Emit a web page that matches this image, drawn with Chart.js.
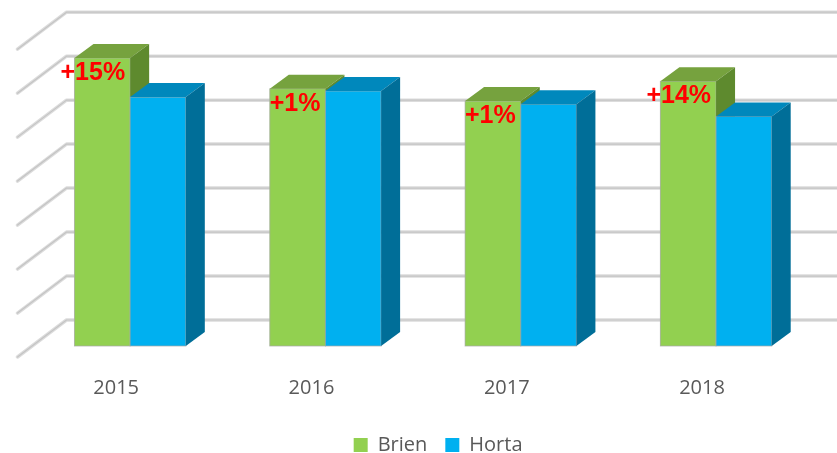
<!DOCTYPE html>
<html>
<head>
<meta charset="utf-8">
<script src="https://cdn.jsdelivr.net/npm/chart.js@4.4.1/dist/chart.umd.min.js"></script>
<style>
  html, body { margin: 0; padding: 0; background: #fff; }
  #wrap { width: 837px; height: 453px; }
</style>
</head>
<body>
<div id="wrap"><canvas id="myChart"></canvas></div>
<script>
// chart data
const years = ['2015', '2016', '2017', '2018'];
const brien = [6.55, 5.85, 5.57, 6.02];
const horta = [5.66, 5.80, 5.50, 5.22];
const diffLabels = ['+15%', '+1%', '+1%', '+14%'];
const gridValues = [0, 1, 2, 3, 4, 5, 6, 7];

// colours for each face of the 3d bars
const faces = [
  { front: '#92D050', top: '#76A23E', side: '#5E8A2E' },
  { front: '#00B0F0', top: '#0088BC', side: '#006E98' }
];

// draws the back wall / side wall lines and the 3d bars
const bars3d = {
  id: 'bars3d',
  afterLayout(chart) {
    // legend sits a little right of centre in the original
    chart.legend.left += 15;
    chart.legend.right += 15;
  },
  beforeDatasetsDraw(chart) {
    const ctx = chart.ctx;
    const y = chart.scales.y;
    const area = chart.chartArea;
    const xb = area.left + 34;
    ctx.save();
    gridValues.forEach(v => {
      const yb = y.getPixelForValue(v) - 26;
      ctx.beginPath();
      ctx.moveTo(xb - 49, yb + 37);
      ctx.lineTo(xb, yb);
      ctx.lineTo(chart.width, yb);
      ctx.lineCap = 'round';
      ctx.lineJoin = 'round';
      ctx.strokeStyle = '#dcdcdc';
      ctx.lineWidth = 3.5;
      ctx.stroke();
      ctx.strokeStyle = '#c4c4c4';
      ctx.lineWidth = 1.2;
      ctx.stroke();
    });
    ctx.restore();
  },
  afterDatasetsDraw(chart) {
    const ctx = chart.ctx;
    const dx = 19, dy = -14;
    ctx.save();
    years.forEach((yr, i) => {
      chart.data.datasets.forEach((ds, d) => {
        const el = chart.getDatasetMeta(d).data[i];
        const l = el.x - el.width / 2, r = el.x + el.width / 2;
        const t = el.y, b = el.base;
        const c = faces[d];
        ctx.fillStyle = c.front;
        ctx.fillRect(l, t, r - l, b - t);
        ctx.strokeStyle = 'rgba(170,170,170,0.7)';
        ctx.lineWidth = 1;
        ctx.strokeRect(l, t, r - l, b - t);
        ctx.beginPath();
        ctx.moveTo(l, t);
        ctx.lineTo(l + dx, t + dy);
        ctx.lineTo(r + dx, t + dy);
        ctx.lineTo(r, t);
        ctx.closePath();
        ctx.fillStyle = c.top;
        ctx.fill();
        ctx.beginPath();
        ctx.moveTo(r, t);
        ctx.lineTo(r + dx, t + dy);
        ctx.lineTo(r + dx, b + dy);
        ctx.lineTo(r, b);
        ctx.closePath();
        ctx.fillStyle = c.side;
        ctx.fill();
      });
    });
    // percentage labels on the Brien bars
    const meta = chart.getDatasetMeta(0);
    ctx.font = 'bold 25px "Liberation Sans", Arial, sans-serif';
    ctx.fillStyle = '#FF0000';
    ctx.textAlign = 'right';
    ctx.textBaseline = 'middle';
    diffLabels.forEach((txt, i) => {
      const el = meta.data[i];
      ctx.fillText(txt, el.x + el.width / 2 - 5, el.y + 15);
    });
    ctx.restore();
  }
};

const ctx = document.getElementById('myChart').getContext('2d');
const myChart = new Chart(ctx, {
  type: 'bar',
  data: {
    labels: years,
    datasets: [
      { label: 'Brien', data: brien, backgroundColor: faces[0].front, borderWidth: 0 },
      { label: 'Horta', data: horta, backgroundColor: faces[1].front, borderWidth: 0 }
    ]
  },
  options: {
    responsive: true,
    maintainAspectRatio: false,
    animation: false,
    layout: { padding: { top: 3, left: 32.5, right: 23.3, bottom: -12 } },
    datasets: { bar: { categoryPercentage: 0.57, barPercentage: 1.0 } },
    plugins: {
      legend: {
        position: 'bottom',
        labels: {
          boxWidth: 14,
          boxHeight: 14,
          padding: 18,
          color: '#595959',
          font: { family: '"Open Sans", sans-serif', size: 20 }
        }
      },
      tooltip: { enabled: false }
    },
    scales: {
      x: {
        grid: { display: false },
        border: { display: false },
        ticks: {
          padding: 22,
          labelOffset: -14,
          color: '#595959',
          font: { family: '"Open Sans", sans-serif', size: 20 }
        },
        afterFit(scale) { scale.height -= 5; }
      },
      y: {
        display: false,
        min: 0,
        max: 7.8
      }
    }
  },
  plugins: [bars3d]
});
</script>
</body>
</html>
